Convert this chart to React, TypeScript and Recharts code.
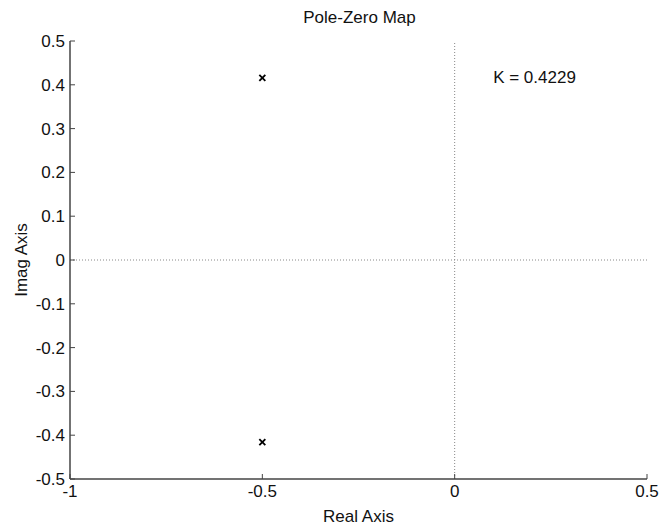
import React from "react";
import {
  ScatterChart,
  Scatter,
  XAxis,
  YAxis,
  ReferenceLine,
  ReferenceDot,
  Label,
} from "recharts";

// pole locations
const poleRe = [-0.5, -0.5];
const poleIm = [0.4157, -0.4157];
const gainText = "K = 0.4229";

const xTicks = [-1, -0.5, 0, 0.5];
const yTicks = [0.5, 0.4, 0.3, 0.2, 0.1, 0, -0.1, -0.2, -0.3, -0.4, -0.5];

const poles = poleRe.map((re, i) => ({ re, im: poleIm[i] }));

const FONT = "'Liberation Sans', Arial, Helvetica, sans-serif";
const INK = "#111";
const FRAME = "#444";

const fmt = (v: number) => String(Math.round(v * 10) / 10);

// matlab-style ticks: short marks pointing into the plot
const LeftTick = (props: any) => {
  const { x, y, payload } = props;
  return (
    <g>
      <line x1={x + 5} x2={x + 10} y1={y} y2={y} stroke={FRAME} strokeWidth={1} />
      <text x={x} y={y} dy="0.35em" textAnchor="end" fontSize={17} fill={INK} fontFamily={FONT}>
        {fmt(payload.value)}
      </text>
    </g>
  );
};

const BottomTick = (props: any) => {
  const { x, y, payload } = props;
  return (
    <g>
      <line x1={x} x2={x} y1={y - 6} y2={y - 11} stroke={FRAME} strokeWidth={1} />
      <text x={x} y={y} dy="0.71em" textAnchor="middle" fontSize={17} fill={INK} fontFamily={FONT}>
        {fmt(payload.value)}
      </text>
    </g>
  );
};

const RightTick = (props: any) => {
  const { x, y } = props;
  return <line x1={x} x2={x - 5} y1={y} y2={y} stroke={FRAME} strokeWidth={1} />;
};

const TopTick = (props: any) => {
  const { x, y } = props;
  return <line x1={x} x2={x} y1={y} y2={y + 5} stroke={FRAME} strokeWidth={1} />;
};

const Cross = (props: any) => {
  const { cx, cy } = props;
  const s = 3;
  return (
    <g stroke="#000" strokeWidth={1.8}>
      <line x1={cx - s} y1={cy - s} x2={cx + s} y2={cy + s} />
      <line x1={cx - s} y1={cy + s} x2={cx + s} y2={cy - s} />
    </g>
  );
};

const App: React.FC = () => {
  return (
    <div style={{ position: "absolute", left: 0, top: 0, width: 659, height: 525, background: "#fff", fontFamily: FONT }}>
      <div
        style={{
          position: "absolute",
          left: 0,
          width: 719,
          top: 8,
          textAlign: "center",
          fontSize: 17,
          color: INK,
          lineHeight: "20px",
        }}
      >
        Pole-Zero Map
      </div>
      <ScatterChart width={659} height={525} margin={{ top: 41, right: 12, bottom: 0, left: 0 }}>
        <XAxis
          type="number"
          dataKey="re"
          domain={[-1, 0.5]}
          ticks={xTicks}
          interval={0}
          height={46}
          tickSize={0}
          tickMargin={6}
          tickLine={false}
          tick={<BottomTick />}
          axisLine={{ stroke: FRAME, strokeWidth: 1.5 }}
          allowDataOverflow
        >
          <Label
            value="Real Axis"
            position="insideBottom"
            offset={3}
            style={{ fontSize: 17, fill: INK, fontFamily: FONT }}
          />
        </XAxis>
        <XAxis
          xAxisId="t"
          orientation="top"
          type="number"
          dataKey="re"
          domain={[-1, 0.5]}
          ticks={xTicks}
          interval={0}
          height={0}
          tickSize={0}
          tickMargin={0}
          tickLine={false}
          tick={<TopTick />}
          axisLine={{ stroke: FRAME, strokeWidth: 1.5 }}
          allowDataOverflow
        />
        <YAxis
          type="number"
          dataKey="im"
          domain={[-0.5, 0.5]}
          ticks={yTicks}
          interval={0}
          width={70}
          tickSize={0}
          tickMargin={5}
          tickLine={false}
          tick={<LeftTick />}
          axisLine={{ stroke: FRAME, strokeWidth: 1.5 }}
          allowDataOverflow
        >
          <Label
            content={(p: any) => {
              const vb = p.viewBox;
              const cy = vb.y + vb.height / 2;
              return (
                <text
                  x={21}
                  y={cy}
                  transform={`rotate(-90 21 ${cy})`}
                  textAnchor="middle"
                  dominantBaseline="central"
                  fontSize={17}
                  fill={INK}
                  fontFamily={FONT}
                >
                  Imag Axis
                </text>
              );
            }}
          />
        </YAxis>
        <YAxis
          yAxisId="r"
          orientation="right"
          type="number"
          dataKey="im"
          domain={[-0.5, 0.5]}
          ticks={yTicks}
          interval={0}
          width={0}
          tickSize={0}
          tickMargin={0}
          tickLine={false}
          tick={<RightTick />}
          axisLine={{ stroke: FRAME, strokeWidth: 1.5 }}
          allowDataOverflow
        />
        <ReferenceLine x={0} stroke="#888" strokeDasharray="1 2" strokeWidth={1} />
        <ReferenceLine y={0} stroke="#888" strokeDasharray="1 2" strokeWidth={1} />
        <ReferenceDot
          x={0.1}
          y={0.418}
          r={0}
          fill="none"
          stroke="none"
          label={{ value: gainText, position: "right", offset: 0, fontSize: 17, fill: INK, fontFamily: FONT }}
        />
        <Scatter data={poles} shape={<Cross />} isAnimationActive={false} />
      </ScatterChart>
    </div>
  );
};

export default App;
